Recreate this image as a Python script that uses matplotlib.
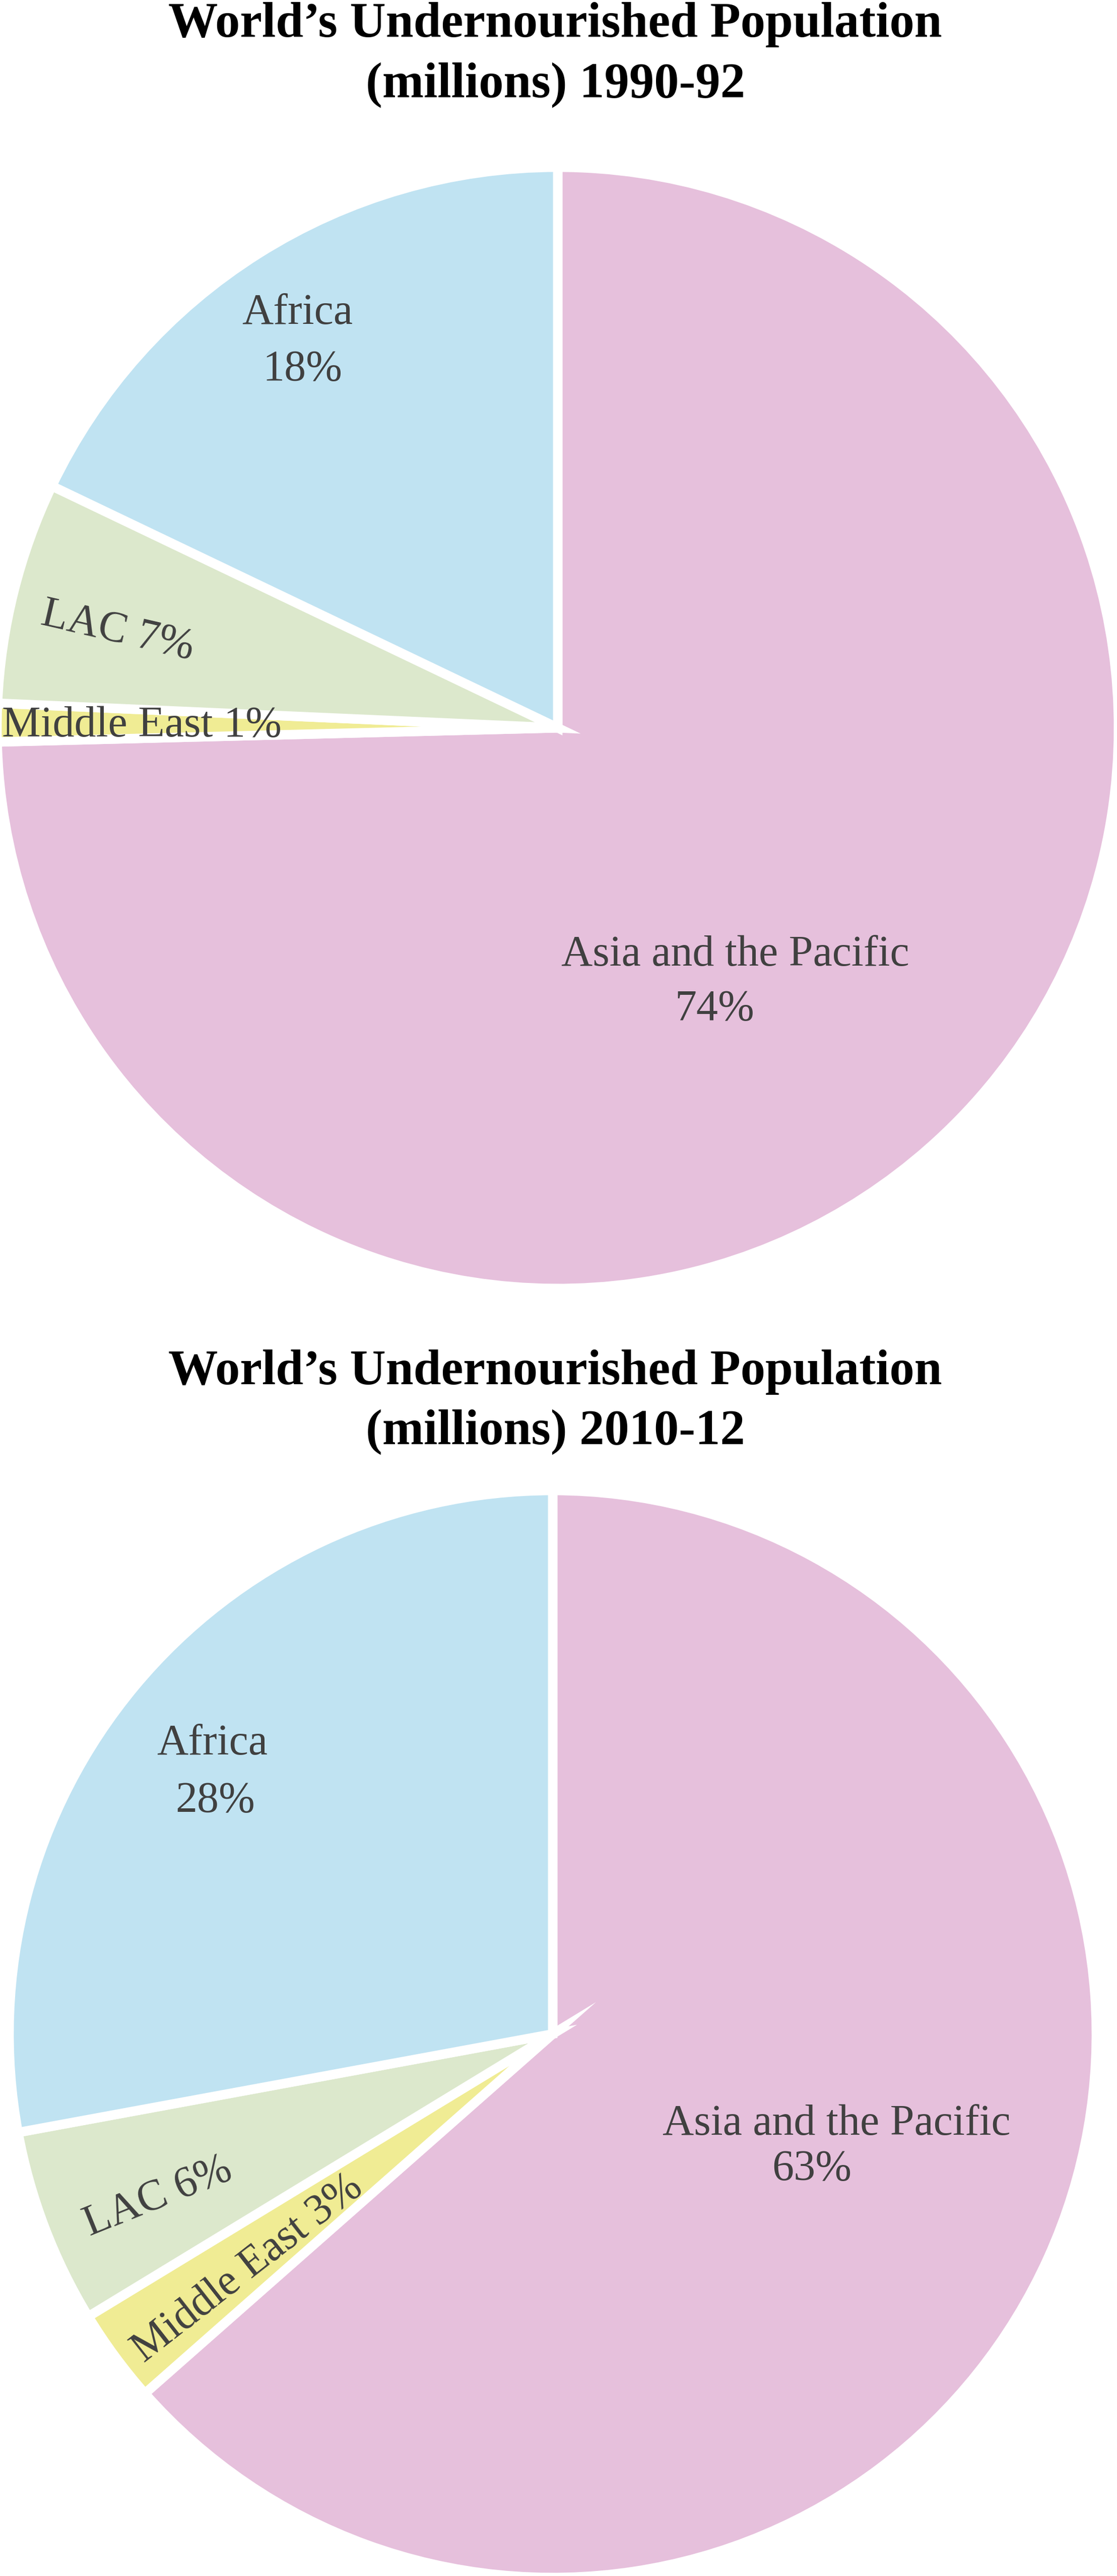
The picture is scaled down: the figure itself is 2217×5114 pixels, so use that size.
import matplotlib
matplotlib.use('Agg')
import matplotlib.pyplot as plt

# ======================
# Data (shares, labels as printed)
# ======================
regions = ['Asia and the Pacific', 'Middle East', 'LAC', 'Africa']
share_1990 = [74.6, 1.1, 6.4, 17.9]
share_2010 = [63.5, 2.8, 5.8, 27.9]
pct_1990 = ['74%', '1%', '7%', '18%']
pct_2010 = ['63%', '3%', '6%', '28%']
title_1990 = ['World\u2019s Undernourished Population', '(millions) 1990-92']
title_2010 = ['World\u2019s Undernourished Population', '(millions) 2010-12']

colors = ['#E6C0DC', '#F0EC94', '#DCE8CC', '#C0E3F2']
text_color = '#404040'

# ======================
# Layout (pixels / radius units)
# ======================
W, H = 2217, 5114
DPI = 100
# pie centre x, centre y, wedge radius in px
pie_boxes = [(1107, 1445, 1113), (1097, 4038, 1079)]
# title baselines in px from top
title_rows = [(73, 193), (2748, 2867)]

# per region: (x, y) of name line, (x, y) of pct line (None -> single line), rotation
layout_1990 = {
    'Asia and the Pacific': ((0.317, -0.424), (0.280, -0.521), 0),
    'Africa': ((-0.464, 0.721), (-0.455, 0.620), 0),
    'LAC': ((-0.785, 0.172), None, -13),
    'Middle East': ((-0.742, 0.003), None, 0),
}
layout_2010 = {
    'Asia and the Pacific': ((0.522, -0.185), (0.477, -0.269), 0),
    'Africa': ((-0.626, 0.514), (-0.621, 0.409), 0),
    'LAC': ((-0.726, -0.300), None, 22),
    'Middle East': ((-0.561, -0.432), None, 38),
}

plt.rcParams['font.family'] = ['Liberation Serif', 'DejaVu Serif']

fig = plt.figure(figsize=(W / DPI, H / DPI), dpi=DPI)
fig.patch.set_facecolor('white')


def draw_pie(box, shares, pcts, layout):
    cx, cy, rw = box
    half = 1200
    ax = fig.add_axes([(cx - half) / W, 1 - (cy + half) / H, 2 * half / W, 2 * half / H])
    ax.pie(shares, colors=colors, startangle=90, counterclock=False,
           wedgeprops=dict(edgecolor='white', linewidth=13.5))
    lim = half / rw
    ax.set_xlim(-lim, lim)
    ax.set_ylim(-lim, lim)
    ax.axis('off')

    for name, pct in zip(regions, pcts):
        name_xy, pct_xy, rot = layout[name]
        if pct_xy is None:
            ax.text(name_xy[0], name_xy[1], f'{name} {pct}', ha='center', va='center',
                    rotation=rot, rotation_mode='anchor', fontsize=62, color=text_color)
        else:
            ax.text(name_xy[0], name_xy[1], name, ha='center', va='baseline',
                    fontsize=62, color=text_color)
            ax.text(pct_xy[0], pct_xy[1], pct, ha='center', va='baseline',
                    fontsize=62, color=text_color)
    return ax


def draw_title(lines, rows):
    for line, row in zip(lines, rows):
        fig.text(1102 / W, 1 - row / H, line, ha='center', va='baseline',
                 fontsize=71, fontweight='bold', color='black')


# ======================
# Draw
# ======================
draw_pie(pie_boxes[0], share_1990, pct_1990, layout_1990)
draw_pie(pie_boxes[1], share_2010, pct_2010, layout_2010)
draw_title(title_1990, title_rows[0])
draw_title(title_2010, title_rows[1])

fig.savefig('out.png', dpi=DPI)
